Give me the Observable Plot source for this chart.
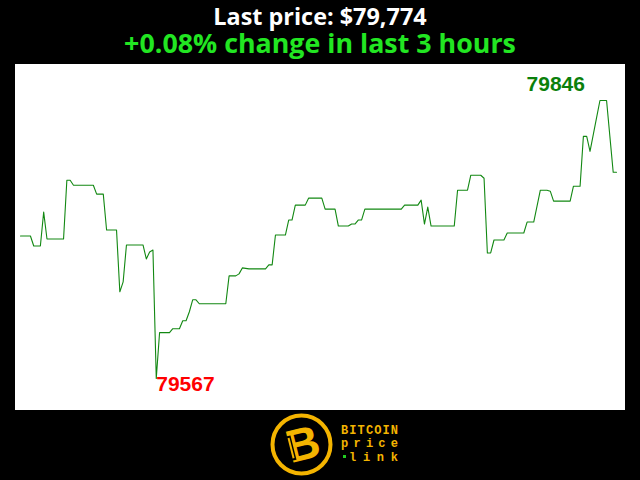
<!DOCTYPE html>
<html>
<head>
<meta charset="utf-8">
<script src="https://cdn.jsdelivr.net/npm/d3@7"></script>
<script src="https://cdn.jsdelivr.net/npm/@observablehq/plot@0.6"></script>
<style>
  html, body { margin: 0; padding: 0; background: #000; width: 640px; height: 480px; overflow: hidden; }
  #title { text-align: center; color: #fff; font: bold 23.4px "Open Sans", sans-serif; height: 31px; line-height: 32px; }
  #sub { text-align: center; color: #22e622; font: bold 26.8px "Open Sans", sans-serif; height: 33px; line-height: 24px; }
  #chart { padding-left: 15px; height: 346px; }
  #chart svg { display: block; }
</style>
</head>
<body>
<div id="title"></div>
<div id="sub"></div>
<div id="chart"></div>
<svg id="logo" width="640" height="70" viewBox="0 0 640 70" style="display:block">
  <circle cx="301.5" cy="34.5" r="29" fill="#000" stroke="#f4b400" stroke-width="4"/>
  <g transform="rotate(-14 301.5 34.5)">
    <text x="303" y="50" text-anchor="middle" font-family="Liberation Sans" font-weight="bold" font-size="46" fill="#f4b400">B</text>
    <rect x="288" y="23" width="5" height="25" fill="#000"/>
    <rect x="289.5" y="25" width="2" height="21" fill="#f4b400"/>
  </g>
  <text x="341" y="24" textLength="57" lengthAdjust="spacing" font-family="Liberation Mono" font-weight="bold" font-size="12" fill="#f4b400">BITCOIN</text>
  <text x="341" y="37" textLength="57" lengthAdjust="spacing" font-family="Liberation Mono" font-weight="bold" font-size="12" fill="#f4b400">price</text>
  <rect x="343" y="45" width="3" height="3" fill="#22cc22"/>
  <text x="349" y="51" textLength="49" lengthAdjust="spacing" font-family="Liberation Mono" font-weight="bold" font-size="12" fill="#f4b400">link</text>
</svg>
<script>
// Header texts
const lastPriceText = "Last price: $79,774";
const changeText = "+0.08% change in last 3 hours";

// Minutes since start of the 3-hour window, and price at each vertex
const minutes = [0, 3, 4, 6, 7, 8, 13, 14, 15, 16, 22, 23, 25, 26, 29, 30, 31, 32, 37, 38, 39, 40, 41, 42, 45, 46, 48, 49, 50, 51, 52, 53, 54, 62, 63, 65, 66, 67, 69, 74, 75, 76, 77, 80, 81, 82, 83, 86, 87, 91, 92, 95, 96, 99, 100, 101, 102, 103, 104, 115, 116, 120, 121, 122, 123, 124, 131, 132, 135, 136, 139, 140, 141, 142, 143, 146, 147, 152, 153, 155, 157, 159, 160, 161, 166, 167, 169, 170, 171, 172, 173, 174, 175, 177, 178, 179, 180];
const prices = [79710, 79710, 79700, 79700, 79734, 79707, 79707, 79766, 79766, 79761, 79761, 79752, 79752, 79716, 79716, 79654, 79664, 79701, 79701, 79687, 79694, 79696, 79567, 79613, 79613, 79617, 79617, 79625, 79625, 79634, 79646, 79646, 79642, 79642, 79670, 79670, 79672, 79678, 79677, 79677, 79681, 79681, 79711, 79711, 79726, 79726, 79741, 79741, 79748, 79748, 79737, 79737, 79720, 79720, 79722, 79722, 79726, 79726, 79737, 79737, 79741, 79741, 79746, 79722, 79739, 79720, 79720, 79756, 79756, 79771, 79771, 79768, 79693, 79693, 79706, 79706, 79713, 79713, 79724, 79724, 79756, 79756, 79755, 79745, 79745, 79760, 79760, 79810, 79810, 79795, 79812, 79829, 79846, 79846, 79810, 79774, 79774];

document.getElementById("title").textContent = lastPriceText;
document.getElementById("sub").textContent = changeText;

const data = minutes.map((m, i) => ({minute: m, price: prices[i]}));
const maxPt = data.reduce((a, b) => (b.price > a.price ? b : a));
const minPt = data.reduce((a, b) => (b.price < a.price ? b : a));

const chart = Plot.plot({
  width: 610,
  height: 346,
  marginLeft: 5,
  marginRight: 9,
  marginTop: 36,
  marginBottom: 32,
  x: {domain: [0, 180], axis: null},
  y: {domain: [minPt.price, maxPt.price], axis: null},
  style: {background: "#fff", overflow: "visible"},
  marks: [
    Plot.line(data, {x: "minute", y: "price", stroke: "#128812", strokeWidth: 1.1}),
    Plot.text([maxPt], {x: "minute", y: "price", text: d => String(d.price), fill: "#0b800b",
      fontWeight: "bold", fontSize: 21, fontFamily: "Liberation Sans", textAnchor: "end", dx: -15, dy: -16}),
    Plot.text([minPt], {x: "minute", y: "price", text: d => String(d.price), fill: "#ff0000",
      fontWeight: "bold", fontSize: 21, fontFamily: "Liberation Sans", textAnchor: "start", dy: 6})
  ]
});
document.getElementById("chart").appendChild(chart);
</script>
</body>
</html>
